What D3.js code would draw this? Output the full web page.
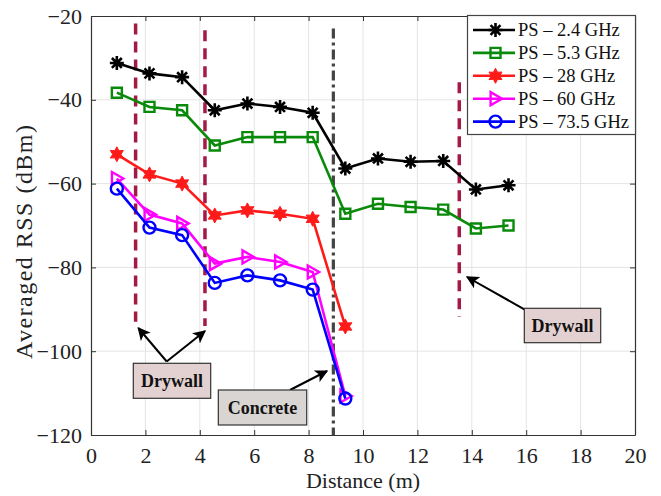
<!DOCTYPE html>
<html>
<head>
<meta charset="utf-8">
<script src="https://cdn.jsdelivr.net/npm/d3@7"></script>
<style>
html,body{margin:0;padding:0;background:#fff;}
svg{display:block;font-family:"Liberation Serif","Times New Roman",serif;}
</style>
</head>
<body>
<svg id="chart" width="661" height="496"></svg>
<script>
const distances = [0.95, 2.15, 3.35, 4.55, 5.75, 6.95, 8.15, 9.35, 10.55, 11.75, 12.95, 14.15, 15.35];
const ps24 = [-31.2, -33.7, -34.6, -42.5, -40.9, -41.7, -43.1, -56.4, -54.0, -54.8, -54.6, -61.4, -60.4];
const ps53 = [-38.3, -41.7, -42.5, -50.9, -48.9, -48.9, -48.9, -67.2, -64.8, -65.6, -66.2, -70.7, -70.0];
const ps28 = [-53.0, -57.8, -60.0, -67.6, -66.4, -67.2, -68.4, -94.1];
const ps60 = [-58.8, -67.4, -69.5, -79.1, -77.5, -78.7, -81.1, -110.7];
const ps735 = [-61.2, -70.5, -72.3, -83.7, -81.9, -83.1, -85.3, -111.3];
const seriesNames = ["PS \u2013 2.4 GHz", "PS \u2013 5.3 GHz", "PS \u2013 28 GHz", "PS \u2013 60 GHz", "PS \u2013 73.5 GHz"];
const xTicks = [0, 2, 4, 6, 8, 10, 12, 14, 16, 18, 20];
const yTicks = [-120, -100, -80, -60, -40, -20];
const drywallX = [1.64, 4.19, 13.54];
const drywallRange = [[-21.8, -93.0], [-23.4, -94.0], [-35.8, -91.8]];
const concreteX = 8.91;

const svg = d3.select("#chart");
const L = 91, R = 635, T = 16, B = 435;
const x = d3.scaleLinear().domain([0, 20]).range([L, R]);
const y = d3.scaleLinear().domain([-120, -20]).range([B, T]);

// grid
svg.append("g").selectAll("line").data(xTicks.slice(1, -1)).join("line")
  .attr("x1", d => x(d)).attr("x2", d => x(d)).attr("y1", T).attr("y2", B)
  .attr("stroke", "#e4e4e4").attr("stroke-width", 1);
svg.append("g").selectAll("line").data(yTicks.slice(1, -1)).join("line")
  .attr("y1", d => y(d)).attr("y2", d => y(d)).attr("x1", L).attr("x2", R)
  .attr("stroke", "#e4e4e4").attr("stroke-width", 1);

// axes
const axisColor = "#333";
const gx = svg.append("g").attr("transform", `translate(0,${B})`)
  .call(d3.axisBottom(x).tickValues(xTicks).tickSizeInner(-5).tickSizeOuter(0).tickPadding(12));
const gxt = svg.append("g").attr("transform", `translate(0,${T})`)
  .call(d3.axisTop(x).tickValues(xTicks).tickSizeInner(-5).tickSizeOuter(0).tickFormat(""));
const gy = svg.append("g").attr("transform", `translate(${L},0)`)
  .call(d3.axisLeft(y).tickValues(yTicks).tickSizeInner(-5).tickSizeOuter(0).tickPadding(9));
const gyr = svg.append("g").attr("transform", `translate(${R},0)`)
  .call(d3.axisRight(y).tickValues(yTicks).tickSizeInner(-5).tickSizeOuter(0).tickFormat(""));
[gx, gxt, gy, gyr].forEach(g => {
  g.selectAll("path").attr("stroke", axisColor).attr("stroke-width", 1.2);
  g.selectAll("line").attr("stroke", axisColor);
  g.selectAll("text").attr("fill", "#222").style("font-size", "22px")
    .style("font-family", '"Liberation Serif","Times New Roman",serif');
});

// axis labels
svg.append("text").attr("x", (L + R) / 2).attr("y", 488).attr("text-anchor", "middle")
  .attr("fill", "#222").style("font-size", "22px").text("Distance (m)");
svg.append("text").attr("transform", `translate(32,${242}) rotate(-90)`).attr("text-anchor", "middle")
  .attr("fill", "#222").style("font-size", "24px").attr("textLength", 234).attr("lengthAdjust", "spacing")
  .text("Averaged RSS (dBm)");

// wall lines
svg.append("g").selectAll("line").data(drywallX).join("line")
  .attr("x1", d => x(d)).attr("x2", d => x(d))
  .attr("y1", (d, i) => y(drywallRange[i][0])).attr("y2", (d, i) => y(drywallRange[i][1]))
  .attr("stroke", "#a31a45").attr("stroke-width", 3.5).attr("stroke-dasharray", "11,7");
svg.append("line").attr("x1", x(concreteX)).attr("x2", x(concreteX))
  .attr("y1", y(-23)).attr("y2", B)
  .attr("stroke", "#444").attr("stroke-width", 3.2).attr("stroke-dasharray", "10,4,3,4");

// custom symbols
const asterisk = {draw(ctx, size) {
  const r = Math.sqrt(size) / 2;
  for (let k = 0; k < 4; k++) {
    const a = k * Math.PI / 4;
    ctx.moveTo(-r * Math.cos(a), -r * Math.sin(a));
    ctx.lineTo(r * Math.cos(a), r * Math.sin(a));
  }
}};
const hexagram = {draw(ctx, size) {
  const r = Math.sqrt(size) / 2, ri = r * 0.55;
  for (let k = 0; k < 12; k++) {
    const a = -Math.PI / 2 + k * Math.PI / 6;
    const rr = k % 2 === 0 ? r : ri;
    if (k === 0) ctx.moveTo(rr * Math.cos(a), rr * Math.sin(a));
    else ctx.lineTo(rr * Math.cos(a), rr * Math.sin(a));
  }
  ctx.closePath();
}};
const square = {draw(ctx, size) {
  const r = Math.sqrt(size) / 2;
  ctx.rect(-r, -r, 2 * r, 2 * r);
}};
const triRight = {draw(ctx, size) {
  const r = Math.sqrt(size) / 2;
  ctx.moveTo(r, 0); ctx.lineTo(-r * 0.75, -r); ctx.lineTo(-r * 0.75, r); ctx.closePath();
}};
const circle = {draw(ctx, size) {
  const r = Math.sqrt(size) / 2;
  ctx.moveTo(r, 0); ctx.arc(0, 0, r, 0, 2 * Math.PI);
}};

const series = [
  {name: seriesNames[0], vals: ps24, color: "#000000", sym: asterisk, size: 196, fill: "none", sw: 2.6},
  {name: seriesNames[1], vals: ps53, color: "#0a8a0a", sym: square, size: 100, fill: "none", sw: 2.4},
  {name: seriesNames[2], vals: ps28, color: "#ff1a1a", sym: hexagram, size: 225, fill: "#ff1a1a", sw: 1},
  {name: seriesNames[3], vals: ps60, color: "#ff00ff", sym: triRight, size: 170, fill: "none", sw: 2.4},
  {name: seriesNames[4], vals: ps735, color: "#0000ff", sym: circle, size: 144, fill: "none", sw: 2.4}
];

const line = d3.line().x(d => x(d[0])).y(d => y(d[1]));
series.forEach(s => {
  const pts = s.vals.map((v, i) => [distances[i], v]);
  const g = svg.append("g");
  g.append("path").datum(pts).attr("d", line).attr("fill", "none")
    .attr("stroke", s.color).attr("stroke-width", 2.6);
  g.selectAll("path.m").data(pts).join("path").attr("class", "m")
    .attr("transform", d => `translate(${x(d[0])},${y(d[1])})`)
    .attr("d", d3.symbol(s.sym, s.size)())
    .attr("fill", s.fill).attr("stroke", s.color).attr("stroke-width", s.sw);
});

// annotations
const defs = svg.append("defs");
defs.append("marker").attr("id", "ah").attr("viewBox", "0 0 10 10").attr("refX", 9).attr("refY", 5)
  .attr("markerWidth", 6.5).attr("markerHeight", 6.5).attr("markerUnits", "strokeWidth")
  .attr("orient", "auto-start-reverse")
  .append("path").attr("d", "M0,0 L10,5 L0,10 L2.5,5 Z").attr("fill", "#000");

const arrows = [
  [166.7, 361.5, 138.3, 328],
  [166.7, 361.5, 205, 331],
  [290, 390, 327, 371],
  [524.3, 309.3, 467, 277]
];
svg.append("g").selectAll("line").data(arrows).join("line")
  .attr("x1", d => d[0]).attr("y1", d => d[1]).attr("x2", d => d[2]).attr("y2", d => d[3])
  .attr("stroke", "#000").attr("stroke-width", 2).attr("marker-end", "url(#ah)");

const boxes = [
  {label: "Drywall", x0: 133.3, y0: 363.3, w: 77.4, h: 35, fill: "#e3d0d0"},
  {label: "Concrete", x0: 218.3, y0: 390, w: 88.4, h: 35, fill: "#d9d5d2"},
  {label: "Drywall", x0: 524.3, y0: 308.3, w: 76.4, h: 34.4, fill: "#e3d0d0"}
];
const bg = svg.append("g").selectAll("g").data(boxes).join("g");
bg.append("rect").attr("x", d => d.x0).attr("y", d => d.y0).attr("width", d => d.w).attr("height", d => d.h)
  .attr("fill", d => d.fill).attr("stroke", "#333").attr("stroke-width", 1.2);
bg.append("text").attr("x", d => d.x0 + d.w / 2).attr("y", d => d.y0 + d.h / 2 + 6)
  .attr("text-anchor", "middle").style("font-size", "18px").style("font-weight", "bold")
  .attr("fill", "#111").text(d => d.label);

// legend
const lg = svg.append("g");
lg.append("rect").attr("x", 467.5).attr("y", 15.5).attr("width", 168).attr("height", 119)
  .attr("fill", "#fff").attr("stroke", "#444").attr("stroke-width", 1.2);
series.forEach((s, i) => {
  const ly = 30 + i * 22.9;
  lg.append("line").attr("x1", 473).attr("x2", 515).attr("y1", ly).attr("y2", ly)
    .attr("stroke", s.color).attr("stroke-width", 2.6);
  lg.append("path").attr("transform", `translate(495.5,${ly})`)
    .attr("d", d3.symbol(s.sym, s.size)())
    .attr("fill", s.fill).attr("stroke", s.color).attr("stroke-width", s.sw);
  lg.append("text").attr("x", 518).attr("y", ly + 6).style("font-size", "18.5px")
    .attr("fill", "#111").text(s.name);
});
</script>
</body>
</html>
